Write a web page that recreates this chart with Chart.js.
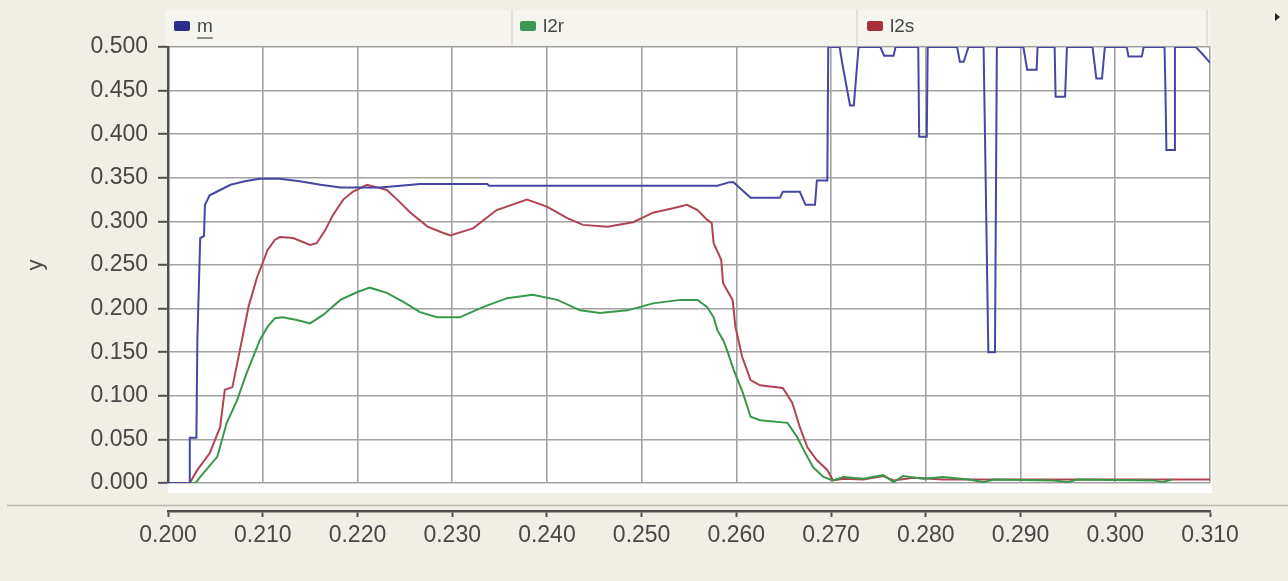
<!DOCTYPE html>
<html>
<head>
<meta charset="utf-8">
<script src="https://cdn.jsdelivr.net/npm/chart.js@4.4.1/dist/chart.umd.min.js"></script>
<style>
  html, body { margin: 0; padding: 0; background: #f0eee5; }
  #wrap { width: 1288px; height: 581px; position: relative; }
</style>
</head>
<body>
<div id="wrap"><canvas id="c" width="1288" height="581"></canvas></div>
<script>
// ---- data ----
const seriesNames = ['m', 'l2r', 'l2s'];
const xTickMin = 0.200, xTickMax = 0.310, xStep = 0.010;
const yTickMin = 0.000, yTickMax = 0.500, yStep = 0.050;

const mPoints = [
  [0.2000,0],[0.2023,0],[0.2023,0.052],[0.2030,0.052],[0.2031,0.164],[0.2034,0.281],[0.2038,0.283],
  [0.2039,0.319],[0.2044,0.330],[0.2055,0.336],[0.2066,0.342],[0.2081,0.346],[0.2097,0.349],
  [0.2118,0.349],[0.2139,0.346],[0.2161,0.342],[0.2182,0.339],[0.2203,0.339],[0.2224,0.339],
  [0.2245,0.341],[0.2266,0.343],[0.2287,0.343],[0.2337,0.343],[0.2339,0.341],[0.2580,0.341],
  [0.2593,0.345],[0.2597,0.345],[0.2615,0.327],[0.2646,0.327],[0.2649,0.334],[0.2667,0.334],
  [0.2673,0.319],[0.2683,0.319],[0.2685,0.347],[0.2696,0.347],[0.2697,0.5],[0.2709,0.5],
  [0.2712,0.48],[0.2720,0.433],[0.2724,0.433],[0.2729,0.5],[0.2752,0.5],[0.2756,0.49],
  [0.2766,0.49],[0.2768,0.5],[0.2792,0.5],[0.2793,0.397],[0.2801,0.397],[0.2802,0.5],
  [0.2833,0.5],[0.2836,0.483],[0.2840,0.483],[0.2845,0.5],[0.2861,0.5],[0.2866,0.15],
  [0.2873,0.15],[0.2875,0.5],[0.2903,0.5],[0.2907,0.474],[0.2917,0.474],[0.2918,0.5],
  [0.2936,0.5],[0.2937,0.443],[0.2947,0.443],[0.2949,0.5],[0.2976,0.5],[0.2980,0.464],
  [0.2986,0.464],[0.2989,0.5],[0.3012,0.5],[0.3014,0.489],[0.3028,0.489],[0.3030,0.5],
  [0.3052,0.5],[0.3053,0.448],[0.3054,0.382],[0.3062,0.382],[0.3063,0.5],[0.3085,0.5],
  [0.3092,0.492],[0.3100,0.482]
];

const l2rPoints = [
  [0.2000,0],[0.2029,0],[0.2034,0.007],[0.2052,0.030],[0.2062,0.069],[0.2073,0.095],[0.2083,0.126],
  [0.2090,0.145],[0.2097,0.164],[0.2105,0.179],[0.2113,0.189],[0.2121,0.190],[0.2136,0.187],
  [0.2150,0.183],[0.2164,0.193],[0.2182,0.210],[0.2200,0.219],[0.2213,0.224],[0.2231,0.218],
  [0.2248,0.208],[0.2266,0.196],[0.2284,0.190],[0.2308,0.190],[0.2333,0.202],[0.2358,0.212],
  [0.2385,0.216],[0.2411,0.210],[0.2435,0.198],[0.2456,0.195],[0.2485,0.198],[0.2512,0.206],
  [0.2541,0.210],[0.2559,0.210],[0.2569,0.202],[0.2576,0.190],[0.2580,0.175],[0.2586,0.164],
  [0.2590,0.153],[0.2597,0.130],[0.2607,0.103],[0.2615,0.076],[0.2625,0.072],[0.2654,0.069],
  [0.2664,0.053],[0.2671,0.038],[0.2681,0.018],[0.2692,0.007],[0.2702,0.003],[0.2713,0.007],
  [0.2734,0.005],[0.2755,0.009],[0.2766,0.001],[0.2776,0.008],[0.2797,0.005],[0.2818,0.007],
  [0.2845,0.004],[0.2861,0.001],[0.2872,0.004],[0.2935,0.003],[0.2950,0.001],[0.2960,0.004],
  [0.3040,0.003],[0.3050,0.001],[0.3060,0.004]
];

const l2sPoints = [
  [0.2000,0],[0.2023,0],[0.2031,0.015],[0.2044,0.034],[0.2055,0.064],[0.2060,0.107],[0.2068,0.110],
  [0.2076,0.153],[0.2085,0.202],[0.2094,0.236],[0.2097,0.244],[0.2105,0.267],[0.2113,0.279],
  [0.2118,0.282],[0.2132,0.281],[0.2150,0.273],[0.2157,0.275],[0.2166,0.290],[0.2174,0.307],
  [0.2185,0.325],[0.2195,0.334],[0.2210,0.342],[0.2221,0.339],[0.2231,0.336],[0.2242,0.325],
  [0.2256,0.310],[0.2274,0.294],[0.2290,0.287],[0.2298,0.284],[0.2322,0.292],[0.2347,0.313],
  [0.2379,0.325],[0.2400,0.317],[0.2421,0.304],[0.2438,0.296],[0.2464,0.294],[0.2491,0.299],
  [0.2512,0.310],[0.2533,0.315],[0.2548,0.319],[0.2559,0.313],[0.2569,0.302],[0.2574,0.298],
  [0.2576,0.275],[0.2584,0.256],[0.2586,0.229],[0.2596,0.210],[0.2599,0.179],[0.2606,0.145],
  [0.2615,0.118],[0.2625,0.112],[0.2649,0.109],[0.2659,0.092],[0.2667,0.064],[0.2675,0.041],
  [0.2685,0.026],[0.2696,0.015],[0.2702,0.003],[0.2713,0.005],[0.2734,0.004],[0.2755,0.008],
  [0.2766,0.003],[0.2787,0.006],[0.2818,0.004],[0.2850,0.004],[0.2900,0.004],[0.2950,0.004],
  [0.3000,0.004],[0.3100,0.004]
];

// ---- styling ----
const lineColors = ['#4646a4', '#38984a', '#b04454'];
const boxColors  = ['#2c2c8a', '#3a9a56', '#a8303a'];
const FONT = '"Liberation Sans", Arial, sans-serif';
const BG = '#f0eee5';
const axisColor = '#505050';
const gridColor = '#a2a2a2';
const textColor = '#474747';

const toXY = pts => pts.map(p => ({x: p[0], y: p[1]}));

const decorPlugin = {
  id: 'decor',
  beforeDraw(chart) {
    const {ctx, chartArea: a} = chart;
    ctx.save();
    ctx.fillStyle = BG;
    ctx.fillRect(0, 0, chart.width, chart.height);
    // legend strip
    ctx.fillStyle = '#f5f4ee';
    ctx.fillRect(165, 10, a.right - 165, 35);
    // plot background
    ctx.fillStyle = '#ffffff';
    ctx.fillRect(a.left, a.top, a.right - a.left + 2, a.bottom - a.top + 10);
    // separator line across
    ctx.strokeStyle = '#b9b7ae';
    ctx.lineWidth = 1.5;
    ctx.beginPath();
    ctx.moveTo(7, 505.5); ctx.lineTo(chart.width, 505.5);
    ctx.stroke();
    // legend column separators
    ctx.strokeStyle = '#dcdad0';
    ctx.lineWidth = 1.5;
    [512, 857, 1207].forEach(x => {
      ctx.beginPath(); ctx.moveTo(x, 10); ctx.lineTo(x, 45); ctx.stroke();
    });
    ctx.restore();
  },
  afterDraw(chart) {
    const {ctx} = chart;
    ctx.save();
    const boxX = [174, 520, 867];
    const textX = [197, 543, 890];
    ctx.font = '19px ' + FONT;
    ctx.textBaseline = 'middle';
    chart.data.datasets.forEach((ds, i) => {
      ctx.fillStyle = boxColors[i];
      ctx.beginPath();
      ctx.roundRect(boxX[i], 21, 16, 10, 2);
      ctx.fill();
      ctx.fillStyle = textColor;
      ctx.fillText(ds.label, textX[i], 27);
      if (i === 0) {
        const w = ctx.measureText(ds.label).width;
        ctx.strokeStyle = textColor;
        ctx.lineWidth = 1.2;
        ctx.beginPath(); ctx.moveTo(textX[i], 38); ctx.lineTo(textX[i] + w, 38); ctx.stroke();
      }
    });
    // scroll arrow
    ctx.fillStyle = '#222';
    ctx.beginPath();
    ctx.moveTo(1275, 13); ctx.lineTo(1280, 17); ctx.lineTo(1275, 21); ctx.closePath();
    ctx.fill();
    ctx.restore();
  }
};

const tickFont = {family: FONT, size: 23};

new Chart(document.getElementById('c'), {
  type: 'line',
  data: {
    datasets: [
      {label: seriesNames[0], data: toXY(mPoints), borderColor: lineColors[0]},
      {label: seriesNames[1], data: toXY(l2rPoints), borderColor: lineColors[1]},
      {label: seriesNames[2], data: toXY(l2sPoints), borderColor: lineColors[2]}
    ].map(d => Object.assign(d, {borderWidth: 2, pointRadius: 0, tension: 0, fill: false, xAxisID: 'x', yAxisID: 'y'}))
  },
  options: {
    responsive: false,
    animation: false,
    events: [],
    layout: {padding: {left: 20, right: 78, top: 47, bottom: 0}},
    plugins: {legend: {display: false}, tooltip: {enabled: false}},
    scales: {
      x: {
        type: 'linear', position: 'bottom', weight: 0,
        min: xTickMin, max: xTickMax,
        ticks: {display: false, stepSize: xStep},
        grid: {color: gridColor, lineWidth: 1.6, drawTicks: false},
        border: {display: false},
        afterFit: s => { s.height = 28; }
      },
      x2: {
        type: 'linear', position: 'bottom', weight: 1,
        min: xTickMin, max: xTickMax,
        ticks: {stepSize: xStep, color: textColor, font: tickFont, padding: 5, maxRotation: 0,
                callback: v => v.toFixed(3)},
        grid: {drawOnChartArea: false, tickLength: 6, tickColor: axisColor, tickWidth: 2},
        border: {color: axisColor, width: 2.5},
        afterFit: s => { s.height = 70; }
      },
      y: {
        type: 'linear', position: 'left',
        min: yTickMin, max: yTickMax,
        ticks: {stepSize: yStep, color: textColor, font: tickFont, padding: 10,
                callback: v => v.toFixed(3)},
        grid: {color: gridColor, lineWidth: 1.6, tickLength: 10, tickColor: axisColor, tickWidth: 2},
        border: {color: axisColor, width: 2.5},
        title: {display: true, text: 'y', color: textColor, font: {family: FONT, size: 22}, padding: 3},
        afterFit: s => { s.width = 148; }
      }
    }
  },
  plugins: [decorPlugin]
});
</script>
</body>
</html>
